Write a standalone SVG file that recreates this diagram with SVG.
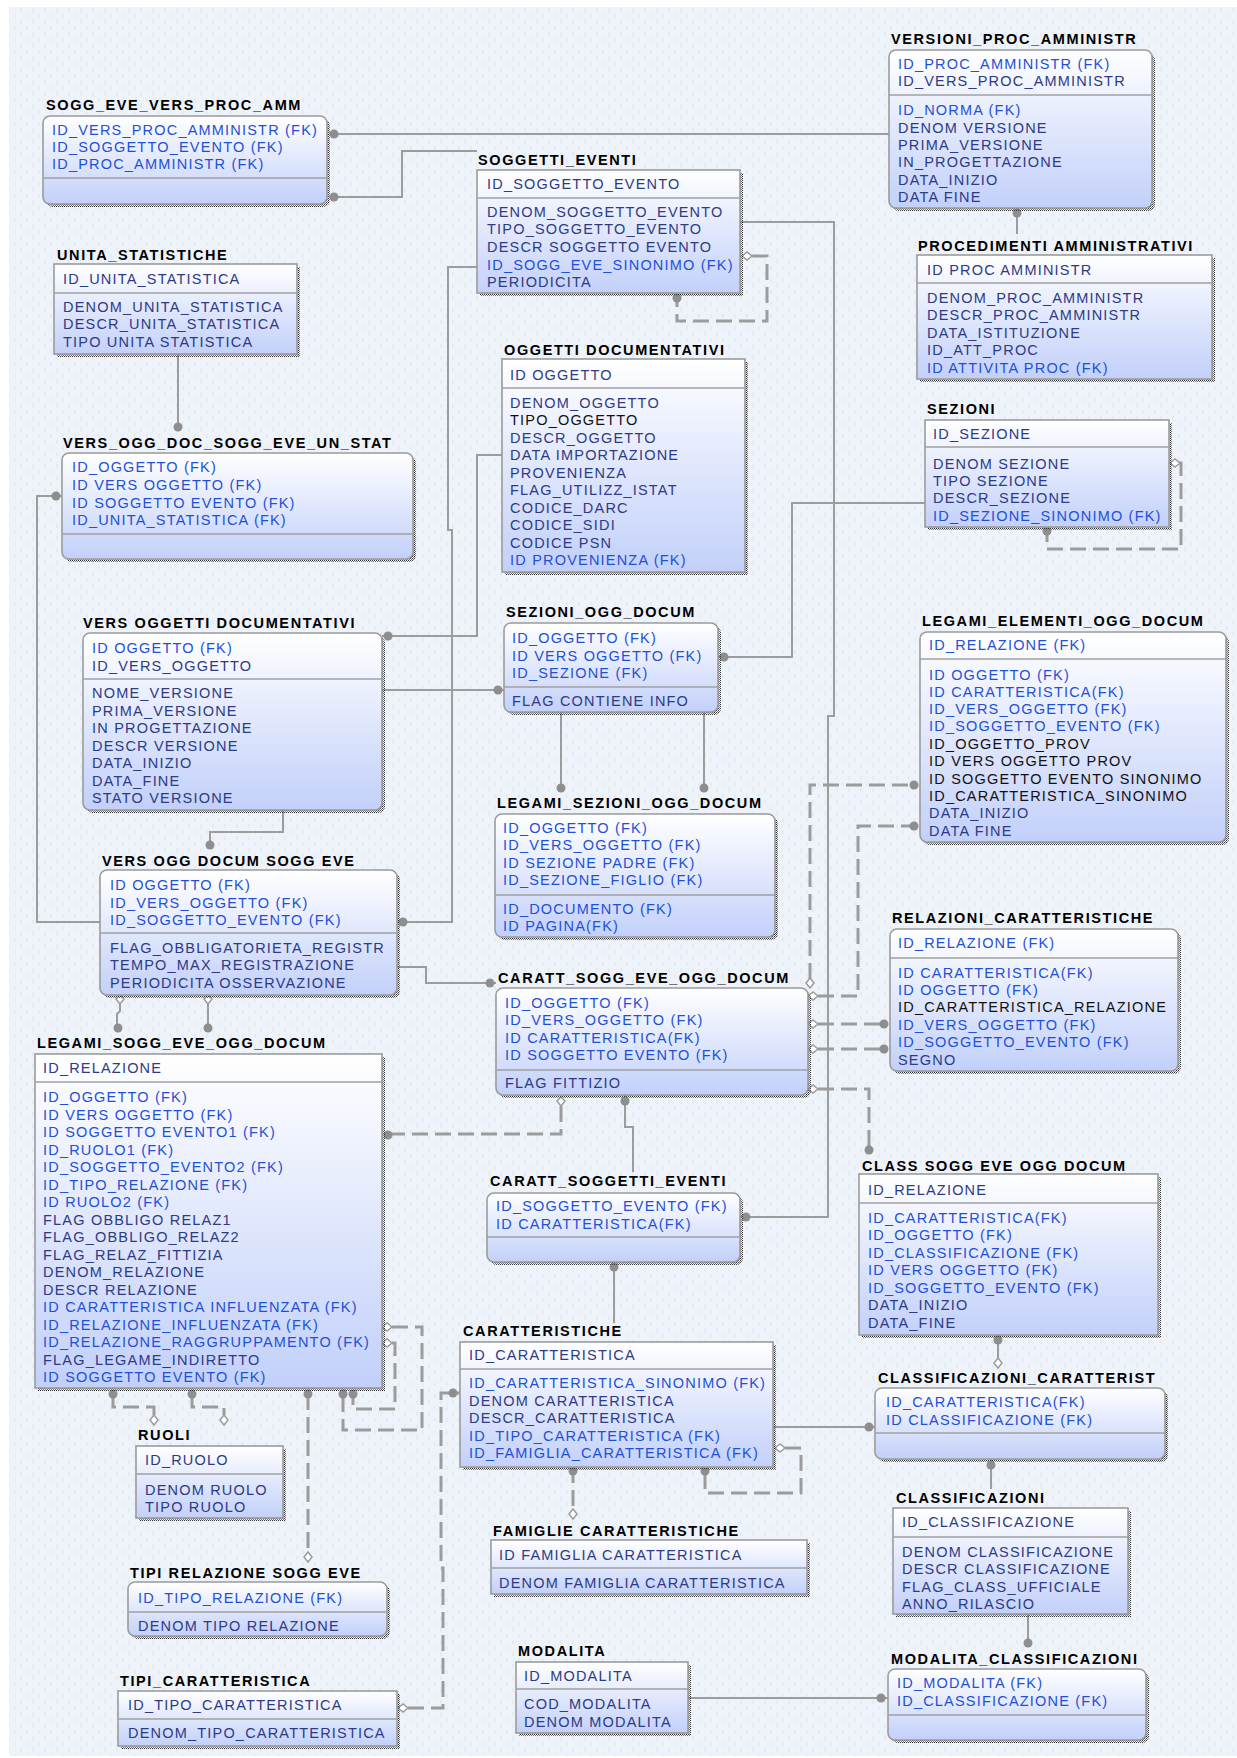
<svg xmlns="http://www.w3.org/2000/svg" width="1237" height="1758" viewBox="0 0 1237 1758">
<defs>
<style>
.t{font:bold 14.5px "Liberation Sans",Arial,sans-serif;letter-spacing:1.6px;fill:#000}
.a{font:14.5px "Liberation Sans",Arial,sans-serif;letter-spacing:1.2px}
.fk{fill:#1e50d8}.nv{fill:#2d3a86}.bk{fill:#111}
.box{stroke:#9b9b9b;stroke-width:1.6;fill:url(#g)}
.sh{fill:url(#dots)}
.dv{stroke:#a0a0a0;stroke-width:1.5}
.ln{stroke:#9c9c9c;stroke-width:2;fill:none}
.ds{stroke:#9c9c9c;stroke-width:3;fill:none;stroke-dasharray:16 7}
.dot{fill:#8e8e8e}
.dia{fill:#fff;stroke:#9c9c9c;stroke-width:1.5}
</style>
<linearGradient id="g" x1="0" y1="0" x2="0" y2="1"><stop offset="0" stop-color="#ffffff"/><stop offset="1" stop-color="#c2d0fa"/></linearGradient>
<pattern id="dots" width="2" height="2" patternUnits="userSpaceOnUse"><rect width="1" height="1" fill="#333"/><rect x="1" y="1" width="1" height="1" fill="#777"/></pattern>
<pattern id="bgp" width="12" height="12" patternUnits="userSpaceOnUse"><rect width="12" height="12" fill="#eef3fa"/><path d="M4,2 L2,4 L4,6 M10,8 L8,10 L10,12" stroke="#d9e0ec" stroke-width="0.8" fill="none"/></pattern>
</defs>
<rect width="1237" height="1758" fill="#fff"/>
<rect x="9" y="7" width="1228" height="1749" fill="url(#bgp)"/>

<g id="connectors">
<path class="ln" d="M330,134 H889"/><circle class="dot" cx="334" cy="134" r="4.5"/>
<path class="ln" d="M330,197 H402 V151 H477"/><circle class="dot" cx="334" cy="197" r="4.5"/>
<path class="ln" d="M178,354 V427"/><circle class="dot" cx="178" cy="427" r="4.5"/>
<path class="ln" d="M100,922 H37 V496 H62"/><circle class="dot" cx="56" cy="496" r="4.5"/>
<path class="ln" d="M1017,208 V234"/><circle class="dot" cx="1017" cy="213" r="4.5"/>
<path class="ln" d="M740,222 H834 V716 H828 V1217 H740"/><circle class="dot" cx="746" cy="1217" r="4.5"/>
<path class="ds" d="M752,256 H767 V321 H677 V295"/><path class="dia" d="M742,256 L747,252 L752,256 L747,260 Z"/><circle class="dot" cx="677" cy="298" r="4.5"/>
<path class="ln" d="M477,267 H448 V530 H452 V922 H397"/><circle class="dot" cx="403" cy="922" r="4.5"/>
<path class="ln" d="M502,455 H477 V636 H382"/><circle class="dot" cx="388" cy="636" r="4.5"/>
<path class="ln" d="M925,503 H792 V657 H718"/><circle class="dot" cx="724" cy="657" r="4.5"/>
<path class="ds" d="M1178,463 H1181 V549 H1047 V528"/><path class="dia" d="M1170,463 L1175,459 L1180,463 L1175,467 Z"/><circle class="dot" cx="1047" cy="531" r="4.5"/>
<path class="ln" d="M382,690 H504"/><circle class="dot" cx="498" cy="690" r="4.5"/>
<path class="ln" d="M283,810 V832 H210 V844"/><circle class="dot" cx="210" cy="845" r="4.5"/>
<path class="ln" d="M561,712 V787"/><circle class="dot" cx="561" cy="788" r="4.5"/>
<path class="ln" d="M704,712 V787"/><circle class="dot" cx="704" cy="788" r="4.5"/>
<path class="ds" d="M810,979 V785 H913"/><path class="dia" d="M810,978 L814,983 L810,988 L806,983 Z"/><circle class="dot" cx="914" cy="785" r="4.5"/>
<path class="ds" d="M818,996 H858 V826 H913"/><path class="dia" d="M808,996 L813,992 L818,996 L813,1000 Z"/><circle class="dot" cx="914" cy="826" r="4.5"/>
<path class="ds" d="M818,1024 H884"/><path class="dia" d="M808,1024 L813,1020 L818,1024 L813,1028 Z"/><circle class="dot" cx="884" cy="1024" r="4.5"/>
<path class="ds" d="M818,1049 H884"/><path class="dia" d="M808,1049 L813,1045 L818,1049 L813,1053 Z"/><circle class="dot" cx="884" cy="1049" r="4.5"/>
<path class="ds" d="M818,1089 H869 V1149"/><path class="dia" d="M808,1089 L813,1085 L818,1089 L813,1093 Z"/><circle class="dot" cx="869" cy="1150" r="4.5"/>
<path class="ln" d="M397,967 H426 V983 H496"/><circle class="dot" cx="490" cy="983" r="4.5"/>
<path class="ln" d="M120,1003 V1011 L117,1014 V1027"/><path class="dia" d="M120,995 L124,999 L120,1004 L116,999 Z"/><circle class="dot" cx="118" cy="1028" r="4.5"/>
<path class="ln" d="M208,1003 V1027"/><path class="dia" d="M208,995 L212,999 L208,1004 L204,999 Z"/><circle class="dot" cx="208" cy="1028" r="4.5"/>
<path class="ds" d="M561,1106 V1134 H388"/><path class="dia" d="M561,1097 L565,1101 L561,1106 L557,1101 Z"/><circle class="dot" cx="388" cy="1135" r="4.5"/>
<path class="ln" d="M625,1095 V1127 H633 V1172"/><circle class="dot" cx="625" cy="1101" r="4.5"/>
<path class="ln" d="M614,1262 V1323"/><circle class="dot" cx="614" cy="1267" r="4.5"/>
<path class="ds" d="M113,1394 V1407 H154 V1415"/><circle class="dot" cx="113" cy="1394" r="4.5"/><path class="dia" d="M154,1415 L158,1420 L154,1425 L150,1420 Z"/>
<path class="ds" d="M192,1394 V1407 H224 V1415"/><circle class="dot" cx="192" cy="1394" r="4.5"/><path class="dia" d="M224,1415 L228,1420 L224,1425 L220,1420 Z"/>
<path class="ds" d="M308,1394 V1552"/><circle class="dot" cx="308" cy="1394" r="4.5"/><path class="dia" d="M308,1552 L312,1557 L308,1562 L304,1557 Z"/>
<path class="ds" d="M392,1327 H422 V1430 H343 V1394"/><path class="dia" d="M382,1327 L387,1323 L392,1327 L387,1331 Z"/><circle class="dot" cx="343" cy="1394" r="4.5"/>
<path class="ds" d="M392,1343 H395 V1409 H353 V1394"/><path class="dia" d="M382,1343 L387,1339 L392,1343 L387,1347 Z"/><circle class="dot" cx="353" cy="1394" r="4.5"/>
<path class="ds" d="M408,1708 H443 V1568 H441 V1393 H460"/><path class="dia" d="M398,1708 L403,1704 L408,1708 L403,1712 Z"/><circle class="dot" cx="453" cy="1393" r="4.5"/>
<path class="ds" d="M785,1448 H801 V1493 H705 V1467"/><path class="dia" d="M775,1448 L780,1444 L785,1448 L780,1452 Z"/><circle class="dot" cx="705" cy="1471" r="4.5"/>
<path class="ds" d="M573,1467 V1509"/><circle class="dot" cx="573" cy="1471" r="4.5"/><path class="dia" d="M573,1509 L577,1514 L573,1519 L569,1514 Z"/>
<path class="ln" d="M773,1427 H875"/><circle class="dot" cx="869" cy="1427" r="4.5"/>
<path class="ln" d="M998,1335 V1358"/><circle class="dot" cx="998" cy="1340" r="4.5"/><path class="dia" d="M998,1358 L1002,1363 L998,1368 L994,1363 Z"/>
<path class="ln" d="M991,1459 V1489"/><circle class="dot" cx="991" cy="1465" r="4.5"/>
<path class="ln" d="M1028,1614 V1643"/><circle class="dot" cx="1028" cy="1643" r="4.5"/>
<path class="ln" d="M688,1698 H888"/><circle class="dot" cx="881" cy="1698" r="4.5"/>
</g>

<g id="sogg_eve_vers_proc_amm">
<text class="t" x="46" y="110">SOGG_EVE_VERS_PROC_AMM</text>
<rect class="sh" x="46" y="119" width="284" height="88" rx="7"/>
<rect class="box" x="43" y="116" width="284" height="88" rx="7"/>
<line class="dv" x1="43" y1="178" x2="327" y2="178"/>
<text class="a"><tspan class="fk" x="52" y="135">ID_VERS_PROC_AMMINISTR (FK)</tspan><tspan class="fk" x="52" y="152">ID_SOGGETTO_EVENTO (FK)</tspan><tspan class="fk" x="52" y="169">ID_PROC_AMMINISTR (FK)</tspan></text>
</g>

<g id="unita_statistiche">
<text class="t" x="57" y="260">UNITA_STATISTICHE</text>
<rect class="sh" x="57" y="267" width="243" height="90"/>
<rect class="box" x="54" y="264" width="243" height="90"/>
<line class="dv" x1="54" y1="293" x2="297" y2="293"/>
<text class="a nv"><tspan x="63" y="284">ID_UNITA_STATISTICA</tspan><tspan x="63" y="312">DENOM_UNITA_STATISTICA</tspan><tspan x="63" y="329">DESCR_UNITA_STATISTICA</tspan><tspan x="63" y="347">TIPO UNITA STATISTICA</tspan></text>
</g>

<g id="versioni_proc_amministr">
<text class="t" x="891" y="44">VERSIONI_PROC_AMMINISTR</text>
<rect class="sh" x="892" y="53" width="263" height="158" rx="7"/>
<rect class="box" x="889" y="50" width="263" height="158" rx="7"/>
<line class="dv" x1="889" y1="95" x2="1152" y2="95"/>
<text class="a nv"><tspan class="fk" x="898" y="69">ID_PROC_AMMINISTR (FK)</tspan><tspan x="898" y="86">ID_VERS_PROC_AMMINISTR</tspan><tspan class="fk" x="898" y="115">ID_NORMA (FK)</tspan><tspan x="898" y="133">DENOM VERSIONE</tspan><tspan x="898" y="150">PRIMA_VERSIONE</tspan><tspan x="898" y="167">IN_PROGETTAZIONE</tspan><tspan x="898" y="185">DATA_INIZIO</tspan><tspan x="898" y="202">DATA FINE</tspan></text>
</g>

<g id="soggetti_eventi">
<text class="t" x="478" y="165">SOGGETTI_EVENTI</text>
<rect class="sh" x="480" y="173" width="263" height="123"/>
<rect class="box" x="477" y="170" width="263" height="123"/>
<line class="dv" x1="477" y1="198" x2="740" y2="198"/>
<text class="a nv"><tspan x="487" y="189">ID_SOGGETTO_EVENTO</tspan><tspan x="487" y="217">DENOM_SOGGETTO_EVENTO</tspan><tspan x="487" y="234">TIPO_SOGGETTO_EVENTO</tspan><tspan x="487" y="252">DESCR SOGGETTO EVENTO</tspan><tspan class="fk" x="487" y="270">ID_SOGG_EVE_SINONIMO (FK)</tspan><tspan x="487" y="287">PERIODICITA</tspan></text>
</g>

<g id="procedimenti_amministrativi">
<text class="t" x="918" y="251">PROCEDIMENTI AMMINISTRATIVI</text>
<rect class="sh" x="920" y="258" width="295" height="124"/>
<rect class="box" x="917" y="255" width="295" height="124"/>
<line class="dv" x1="917" y1="283" x2="1212" y2="283"/>
<text class="a nv"><tspan x="927" y="275">ID PROC AMMINISTR</tspan><tspan x="927" y="303">DENOM_PROC_AMMINISTR</tspan><tspan x="927" y="320">DESCR_PROC_AMMINISTR</tspan><tspan x="927" y="338">DATA_ISTITUZIONE</tspan><tspan x="927" y="355">ID_ATT_PROC</tspan><tspan class="fk" x="927" y="373">ID ATTIVITA PROC (FK)</tspan></text>
</g>

<g id="oggetti_documentativi">
<text class="t" x="504" y="355">OGGETTI DOCUMENTATIVI</text>
<rect class="sh" x="505" y="362" width="243" height="213"/>
<rect class="box" x="502" y="359" width="243" height="213"/>
<line class="dv" x1="502" y1="388" x2="745" y2="388"/>
<text class="a nv"><tspan x="510" y="380">ID OGGETTO</tspan><tspan x="510" y="408">DENOM_OGGETTO</tspan><tspan class="bk" x="510" y="425">TIPO_OGGETTO</tspan><tspan x="510" y="443">DESCR_OGGETTO</tspan><tspan x="510" y="460">DATA IMPORTAZIONE</tspan><tspan x="510" y="478">PROVENIENZA</tspan><tspan x="510" y="495">FLAG_UTILIZZ_ISTAT</tspan><tspan x="510" y="513">CODICE_DARC</tspan><tspan x="510" y="530">CODICE_SIDI</tspan><tspan x="510" y="548">CODICE PSN</tspan><tspan class="fk" x="510" y="565">ID PROVENIENZA (FK)</tspan></text>
</g>

<g id="sezioni">
<text class="t" x="927" y="414">SEZIONI</text>
<rect class="sh" x="928" y="423" width="244" height="107"/>
<rect class="box" x="925" y="420" width="244" height="107"/>
<line class="dv" x1="925" y1="447" x2="1169" y2="447"/>
<text class="a nv"><tspan x="933" y="439">ID_SEZIONE</tspan><tspan x="933" y="469">DENOM SEZIONE</tspan><tspan x="933" y="486">TIPO SEZIONE</tspan><tspan x="933" y="503">DESCR_SEZIONE</tspan><tspan class="fk" x="933" y="521">ID_SEZIONE_SINONIMO (FK)</tspan></text>
</g>

<g id="vers_ogg_doc_sogg_eve_un_stat">
<text class="t" x="63" y="448">VERS_OGG_DOC_SOGG_EVE_UN_STAT</text>
<rect class="sh" x="65" y="456" width="351" height="106" rx="7"/>
<rect class="box" x="62" y="453" width="351" height="106" rx="7"/>
<line class="dv" x1="62" y1="534" x2="413" y2="534"/>
<text class="a fk"><tspan x="72" y="472">ID_OGGETTO (FK)</tspan><tspan x="72" y="490">ID VERS OGGETTO (FK)</tspan><tspan x="72" y="507.5">ID SOGGETTO EVENTO (FK)</tspan><tspan x="72" y="525">ID_UNITA_STATISTICA (FK)</tspan></text>
</g>

<g id="vers_oggetti_documentativi">
<text class="t" x="83" y="628">VERS OGGETTI DOCUMENTATIVI</text>
<rect class="sh" x="86" y="636" width="299" height="177" rx="7"/>
<rect class="box" x="83" y="633" width="299" height="177" rx="7"/>
<line class="dv" x1="83" y1="679" x2="382" y2="679"/>
<text class="a nv"><tspan class="fk" x="92" y="653">ID OGGETTO (FK)</tspan><tspan x="92" y="671">ID_VERS_OGGETTO</tspan><tspan x="92" y="698">NOME_VERSIONE</tspan><tspan x="92" y="716">PRIMA_VERSIONE</tspan><tspan x="92" y="733">IN PROGETTAZIONE</tspan><tspan x="92" y="751">DESCR VERSIONE</tspan><tspan x="92" y="768">DATA_INIZIO</tspan><tspan x="92" y="786">DATA_FINE</tspan><tspan x="92" y="803">STATO VERSIONE</tspan></text>
</g>

<g id="sezioni_ogg_docum">
<text class="t" x="506" y="617">SEZIONI_OGG_DOCUM</text>
<rect class="sh" x="507" y="626" width="214" height="89" rx="7"/>
<rect class="box" x="504" y="623" width="214" height="89" rx="7"/>
<line class="dv" x1="504" y1="687" x2="718" y2="687"/>
<text class="a fk"><tspan x="512" y="643">ID_OGGETTO (FK)</tspan><tspan x="512" y="661">ID VERS OGGETTO (FK)</tspan><tspan x="512" y="678">ID_SEZIONE (FK)</tspan><tspan class="nv" x="512" y="706">FLAG CONTIENE INFO</tspan></text>
</g>

<g id="legami_elementi_ogg_docum">
<text class="t" x="922" y="626">LEGAMI_ELEMENTI_OGG_DOCUM</text>
<rect class="sh" x="923" y="635" width="306" height="210" rx="7"/>
<rect class="box" x="920" y="632" width="306" height="210" rx="7"/>
<line class="dv" x1="920" y1="659" x2="1226" y2="659"/>
<text class="a fk"><tspan x="929" y="650">ID_RELAZIONE (FK)</tspan><tspan x="929" y="680">ID OGGETTO (FK)</tspan><tspan x="929" y="697">ID CARATTERISTICA(FK)</tspan><tspan x="929" y="714">ID_VERS_OGGETTO (FK)</tspan><tspan x="929" y="731">ID_SOGGETTO_EVENTO (FK)</tspan><tspan class="bk" x="929" y="749">ID_OGGETTO_PROV</tspan><tspan class="bk" x="929" y="766">ID VERS OGGETTO PROV</tspan><tspan class="bk" x="929" y="784">ID SOGGETTO EVENTO SINONIMO</tspan><tspan class="bk" x="929" y="801">ID_CARATTERISTICA_SINONIMO</tspan><tspan class="nv" x="929" y="818">DATA_INIZIO</tspan><tspan class="nv" x="929" y="836">DATA FINE</tspan></text>
</g>

<g id="legami_sezioni_ogg_docum">
<text class="t" x="497" y="808">LEGAMI_SEZIONI_OGG_DOCUM</text>
<rect class="sh" x="498" y="817" width="280" height="123" rx="7"/>
<rect class="box" x="495" y="814" width="280" height="123" rx="7"/>
<line class="dv" x1="495" y1="895" x2="775" y2="895"/>
<text class="a fk"><tspan x="503" y="833">ID_OGGETTO (FK)</tspan><tspan x="503" y="850">ID_VERS_OGGETTO (FK)</tspan><tspan x="503" y="868">ID SEZIONE PADRE (FK)</tspan><tspan x="503" y="885">ID_SEZIONE_FIGLIO (FK)</tspan><tspan x="503" y="914">ID_DOCUMENTO (FK)</tspan><tspan x="503" y="931">ID PAGINA(FK)</tspan></text>
</g>

<g id="vers_ogg_docum_sogg_eve">
<text class="t" x="102" y="866">VERS OGG DOCUM SOGG EVE</text>
<rect class="sh" x="103" y="873" width="297" height="125" rx="7"/>
<rect class="box" x="100" y="870" width="297" height="125" rx="7"/>
<line class="dv" x1="100" y1="933" x2="397" y2="933"/>
<text class="a fk"><tspan x="110" y="890">ID OGGETTO (FK)</tspan><tspan x="110" y="908">ID_VERS_OGGETTO (FK)</tspan><tspan x="110" y="925">ID_SOGGETTO_EVENTO (FK)</tspan><tspan class="nv" x="110" y="953">FLAG_OBBLIGATORIETA_REGISTR</tspan><tspan class="nv" x="110" y="970">TEMPO_MAX_REGISTRAZIONE</tspan><tspan class="nv" x="110" y="988">PERIODICITA OSSERVAZIONE</tspan></text>
</g>

<g id="relazioni_caratteristiche">
<text class="t" x="892" y="923">RELAZIONI_CARATTERISTICHE</text>
<rect class="sh" x="893" y="932" width="288" height="142" rx="7"/>
<rect class="box" x="890" y="929" width="288" height="142" rx="7"/>
<line class="dv" x1="890" y1="958" x2="1178" y2="958"/>
<text class="a fk"><tspan x="898" y="948">ID_RELAZIONE (FK)</tspan><tspan x="898" y="978">ID CARATTERISTICA(FK)</tspan><tspan x="898" y="995">ID OGGETTO (FK)</tspan><tspan class="bk" x="898" y="1012">ID_CARATTERISTICA_RELAZIONE</tspan><tspan x="898" y="1030">ID_VERS_OGGETTO (FK)</tspan><tspan x="898" y="1047">ID_SOGGETTO_EVENTO (FK)</tspan><tspan class="nv" x="898" y="1065">SEGNO</tspan></text>
</g>

<g id="caratt_sogg_eve_ogg_docum">
<text class="t" x="498" y="983">CARATT_SOGG_EVE_OGG_DOCUM</text>
<rect class="sh" x="499" y="991" width="312" height="107" rx="7"/>
<rect class="box" x="496" y="988" width="312" height="107" rx="7"/>
<line class="dv" x1="496" y1="1070" x2="808" y2="1070"/>
<text class="a fk"><tspan x="505" y="1008">ID_OGGETTO (FK)</tspan><tspan x="505" y="1025">ID_VERS_OGGETTO (FK)</tspan><tspan x="505" y="1043">ID CARATTERISTICA(FK)</tspan><tspan x="505" y="1060">ID SOGGETTO EVENTO (FK)</tspan><tspan class="nv" x="505" y="1088">FLAG FITTIZIO</tspan></text>
</g>

<g id="legami_sogg_eve_ogg_docum">
<text class="t" x="37" y="1048">LEGAMI_SOGG_EVE_OGG_DOCUM</text>
<rect class="sh" x="38" y="1057" width="347" height="334"/>
<rect class="box" x="35" y="1054" width="347" height="334"/>
<line class="dv" x1="35" y1="1082" x2="382" y2="1082"/>
<text class="a fk"><tspan class="nv" x="43" y="1073">ID_RELAZIONE</tspan><tspan x="43" y="1102">ID_OGGETTO (FK)</tspan><tspan x="43" y="1119.5">ID VERS OGGETTO (FK)</tspan><tspan x="43" y="1137">ID SOGGETTO EVENTO1 (FK)</tspan><tspan x="43" y="1154.5">ID_RUOLO1 (FK)</tspan><tspan x="43" y="1172">ID_SOGGETTO_EVENTO2 (FK)</tspan><tspan x="43" y="1189.5">ID_TIPO_RELAZIONE (FK)</tspan><tspan x="43" y="1207">ID RUOLO2 (FK)</tspan><tspan class="nv" x="43" y="1224.5">FLAG OBBLIGO RELAZ1</tspan><tspan class="nv" x="43" y="1242">FLAG_OBBLIGO_RELAZ2</tspan><tspan class="nv" x="43" y="1259.5">FLAG_RELAZ_FITTIZIA</tspan><tspan class="nv" x="43" y="1277">DENOM_RELAZIONE</tspan><tspan class="nv" x="43" y="1294.5">DESCR RELAZIONE</tspan><tspan x="43" y="1312">ID CARATTERISTICA INFLUENZATA (FK)</tspan><tspan x="43" y="1329.5">ID_RELAZIONE_INFLUENZATA (FK)</tspan><tspan x="43" y="1347">ID_RELAZIONE_RAGGRUPPAMENTO (FK)</tspan><tspan class="nv" x="43" y="1364.5">FLAG_LEGAME_INDIRETTO</tspan><tspan x="43" y="1382">ID SOGGETTO EVENTO (FK)</tspan></text>
</g>

<g id="class_sogg_eve_ogg_docum">
<text class="t" x="862" y="1171">CLASS SOGG EVE OGG DOCUM</text>
<rect class="sh" x="862" y="1177" width="299" height="161"/>
<rect class="box" x="859" y="1174" width="299" height="161"/>
<line class="dv" x1="859" y1="1203" x2="1158" y2="1203"/>
<text class="a fk"><tspan class="nv" x="868" y="1195">ID_RELAZIONE</tspan><tspan x="868" y="1223">ID_CARATTERISTICA(FK)</tspan><tspan x="868" y="1240">ID_OGGETTO (FK)</tspan><tspan x="868" y="1258">ID_CLASSIFICAZIONE (FK)</tspan><tspan x="868" y="1275">ID VERS OGGETTO (FK)</tspan><tspan x="868" y="1293">ID_SOGGETTO_EVENTO (FK)</tspan><tspan class="nv" x="868" y="1310">DATA_INIZIO</tspan><tspan class="nv" x="868" y="1328">DATA_FINE</tspan></text>
</g>

<g id="caratt_soggetti_eventi">
<text class="t" x="490" y="1186">CARATT_SOGGETTI_EVENTI</text>
<rect class="sh" x="490" y="1196" width="253" height="69" rx="7"/>
<rect class="box" x="487" y="1193" width="253" height="69" rx="7"/>
<line class="dv" x1="487" y1="1237" x2="740" y2="1237"/>
<text class="a fk"><tspan x="496" y="1211">ID_SOGGETTO_EVENTO (FK)</tspan><tspan x="496" y="1229">ID CARATTERISTICA(FK)</tspan></text>
</g>

<g id="caratteristiche">
<text class="t" x="463" y="1336">CARATTERISTICHE</text>
<rect class="sh" x="463" y="1345" width="313" height="125"/>
<rect class="box" x="460" y="1342" width="313" height="125"/>
<line class="dv" x1="460" y1="1369" x2="773" y2="1369"/>
<text class="a nv"><tspan x="469" y="1360">ID_CARATTERISTICA</tspan><tspan class="fk" x="469" y="1388">ID_CARATTERISTICA_SINONIMO (FK)</tspan><tspan x="469" y="1406">DENOM CARATTERISTICA</tspan><tspan x="469" y="1423">DESCR_CARATTERISTICA</tspan><tspan class="fk" x="469" y="1441">ID_TIPO_CARATTERISTICA (FK)</tspan><tspan class="fk" x="469" y="1458">ID_FAMIGLIA_CARATTERISTICA (FK)</tspan></text>
</g>

<g id="classificazioni_caratterist">
<text class="t" x="878" y="1383">CLASSIFICAZIONI_CARATTERIST</text>
<rect class="sh" x="878" y="1391" width="290" height="71" rx="7"/>
<rect class="box" x="875" y="1388" width="290" height="71" rx="7"/>
<line class="dv" x1="875" y1="1433" x2="1165" y2="1433"/>
<text class="a fk"><tspan x="886" y="1407">ID_CARATTERISTICA(FK)</tspan><tspan x="886" y="1425">ID CLASSIFICAZIONE (FK)</tspan></text>
</g>

<g id="ruoli">
<text class="t" x="138" y="1440">RUOLI</text>
<rect class="sh" x="139" y="1449" width="147" height="72"/>
<rect class="box" x="136" y="1446" width="147" height="72"/>
<line class="dv" x1="136" y1="1474" x2="283" y2="1474"/>
<text class="a nv"><tspan x="145" y="1465">ID_RUOLO</tspan><tspan x="145" y="1495">DENOM RUOLO</tspan><tspan x="145" y="1512">TIPO RUOLO</tspan></text>
</g>

<g id="classificazioni">
<text class="t" x="896" y="1503">CLASSIFICAZIONI</text>
<rect class="sh" x="896" y="1511" width="235" height="106"/>
<rect class="box" x="893" y="1508" width="235" height="106"/>
<line class="dv" x1="893" y1="1537" x2="1128" y2="1537"/>
<text class="a nv"><tspan x="902" y="1527">ID_CLASSIFICAZIONE</tspan><tspan x="902" y="1557">DENOM CLASSIFICAZIONE</tspan><tspan x="902" y="1574">DESCR CLASSIFICAZIONE</tspan><tspan x="902" y="1592">FLAG_CLASS_UFFICIALE</tspan><tspan x="902" y="1609">ANNO_RILASCIO</tspan></text>
</g>

<g id="famiglie_caratteristiche">
<text class="t" x="493" y="1536">FAMIGLIE CARATTERISTICHE</text>
<rect class="sh" x="494" y="1543" width="316" height="54"/>
<rect class="box" x="491" y="1540" width="316" height="54"/>
<line class="dv" x1="491" y1="1568" x2="807" y2="1568"/>
<text class="a nv"><tspan x="499" y="1560">ID FAMIGLIA CARATTERISTICA</tspan><tspan x="499" y="1588">DENOM FAMIGLIA CARATTERISTICA</tspan></text>
</g>

<g id="tipi_relazione_sogg_eve">
<text class="t" x="130" y="1578">TIPI RELAZIONE SOGG EVE</text>
<rect class="sh" x="131" y="1585" width="259" height="54" rx="7"/>
<rect class="box" x="128" y="1582" width="259" height="54" rx="7"/>
<line class="dv" x1="128" y1="1612" x2="387" y2="1612"/>
<text class="a"><tspan class="fk" x="138" y="1603">ID_TIPO_RELAZIONE (FK)</tspan><tspan class="nv" x="138" y="1631">DENOM TIPO RELAZIONE</tspan></text>
</g>

<g id="modalita">
<text class="t" x="518" y="1656">MODALITA</text>
<rect class="sh" x="519" y="1665" width="172" height="71"/>
<rect class="box" x="516" y="1662" width="172" height="71"/>
<line class="dv" x1="516" y1="1689" x2="688" y2="1689"/>
<text class="a nv"><tspan x="524" y="1681">ID_MODALITA</tspan><tspan x="524" y="1709">COD_MODALITA</tspan><tspan x="524" y="1727">DENOM MODALITA</tspan></text>
</g>

<g id="modalita_classificazioni">
<text class="t" x="891" y="1664">MODALITA_CLASSIFICAZIONI</text>
<rect class="sh" x="891" y="1672" width="258" height="71" rx="7"/>
<rect class="box" x="888" y="1669" width="258" height="71" rx="7"/>
<line class="dv" x1="888" y1="1715" x2="1146" y2="1715"/>
<text class="a fk"><tspan x="897" y="1688">ID_MODALITA (FK)</tspan><tspan x="897" y="1706">ID_CLASSIFICAZIONE (FK)</tspan></text>
</g>

<g id="tipi_caratteristica">
<text class="t" x="120" y="1686">TIPI_CARATTERISTICA</text>
<rect class="sh" x="121" y="1694" width="279" height="55"/>
<rect class="box" x="118" y="1691" width="279" height="55"/>
<line class="dv" x1="118" y1="1719" x2="397" y2="1719"/>
<text class="a nv"><tspan x="128" y="1710">ID_TIPO_CARATTERISTICA</tspan><tspan x="128" y="1738">DENOM_TIPO_CARATTERISTICA</tspan></text>
</g>
</svg>
